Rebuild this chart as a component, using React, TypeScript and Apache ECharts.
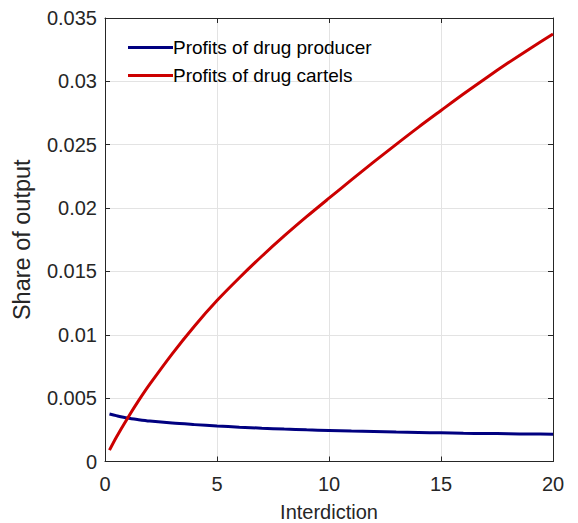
import React, { useEffect, useRef } from "react";
import * as echarts from "echarts";

const interdiction = [0.2, 0.5, 1, 1.5, 2, 3, 4, 5, 6, 7, 8, 9, 10, 11, 12, 13, 14, 15, 16, 17, 18, 19, 20];
const producerProfits = [0.00375, 0.00362, 0.00343, 0.0033, 0.00319, 0.00303, 0.00291, 0.0028, 0.00271, 0.00263, 0.00256, 0.0025, 0.00245, 0.0024, 0.00236, 0.00232, 0.00229, 0.00226, 0.00223, 0.00221, 0.00219, 0.00217, 0.00215];
const cartelProfits = [0.0009, 0.0019, 0.0034, 0.0048, 0.0061, 0.0085, 0.0107, 0.0127, 0.0145, 0.0162, 0.0178, 0.01932, 0.02078, 0.02222, 0.02364, 0.02503, 0.02639, 0.0277, 0.029, 0.03025, 0.03146, 0.03262, 0.03374];
const seriesNames = ["Profits of drug producer", "Profits of drug cartels"];
const xTicks = { min: 0, max: 20, interval: 5 };
const yTicks = { min: 0, max: 0.035, interval: 0.005 };

const FONT = "'Liberation Sans', Arial, Helvetica, sans-serif";
const AXIS_COLOR = "#262626";

export default function App() {
  const ref = useRef<HTMLDivElement>(null);
  useEffect(() => {
    if (!ref.current) return;
    const chart = echarts.init(ref.current, null, { renderer: "svg" });
    const toPairs = (ys: number[]) => interdiction.map((x, i) => [x, ys[i]]);
    const axisLine = { show: true, onZero: false, lineStyle: { color: AXIS_COLOR, width: 1 } };
    const axisTick = { show: true, inside: true, length: 5, lineStyle: { color: AXIS_COLOR } };
    chart.setOption({
      animation: false,
      backgroundColor: "#ffffff",
      textStyle: { fontFamily: FONT },
      grid: { left: 105, right: 25, top: 18, bottom: 61.5, containLabel: false, outerBoundsMode: "none" },
      legend: {
        orient: "vertical",
        left: 123,
        top: 33,
        icon: "rect",
        itemWidth: 45,
        itemHeight: 3,
        itemGap: 9,
        data: seriesNames,
        textStyle: { fontSize: 19, color: "#000", fontFamily: FONT, padding: [0, 0, 0, -5] },
      },
      xAxis: [
        {
          type: "value",
          ...xTicks,
          name: "Interdiction",
          nameLocation: "middle",
          nameGap: 40,
          nameTextStyle: { fontSize: 20, color: AXIS_COLOR, fontFamily: FONT },
          axisLine,
          axisTick,
          axisLabel: { fontSize: 20, color: AXIS_COLOR, margin: 12, fontFamily: FONT },
          splitLine: { show: true, lineStyle: { color: "#e3e3e3", width: 1 } },
        },
        {
          type: "value",
          ...xTicks,
          position: "top",
          axisLine,
          axisTick,
          axisLabel: { show: false },
          splitLine: { show: false },
        },
      ],
      yAxis: [
        {
          type: "value",
          ...yTicks,
          name: "Share of output",
          nameLocation: "middle",
          nameGap: 71,
          nameTextStyle: { fontSize: 23.5, color: AXIS_COLOR, fontFamily: FONT },
          axisLine,
          axisTick,
          axisLabel: {
            fontSize: 20,
            color: AXIS_COLOR,
            margin: 8,
            fontFamily: FONT,
            formatter: (v: number) => String(+v.toFixed(3)),
          },
          splitLine: { show: true, lineStyle: { color: "#e3e3e3", width: 1 } },
        },
        {
          type: "value",
          ...yTicks,
          position: "right",
          axisLine,
          axisTick,
          axisLabel: { show: false },
          splitLine: { show: false },
        },
      ],
      series: [
        {
          name: seriesNames[0],
          type: "line",
          data: toPairs(producerProfits),
          showSymbol: false,
          smooth: 0.3,
          lineStyle: { color: "#000080", width: 3 },
          itemStyle: { color: "#000080" },
          z: 3,
        },
        {
          name: seriesNames[1],
          type: "line",
          data: toPairs(cartelProfits),
          showSymbol: false,
          smooth: 0.3,
          lineStyle: { color: "#cc0000", width: 3 },
          itemStyle: { color: "#cc0000" },
          z: 4,
        },
      ],
    });
    return () => chart.dispose();
  }, []);
  return (
    <div
      ref={ref}
      style={{ position: "fixed", left: 0, top: 0, width: 578, height: 523, background: "#fff" }}
    />
  );
}
